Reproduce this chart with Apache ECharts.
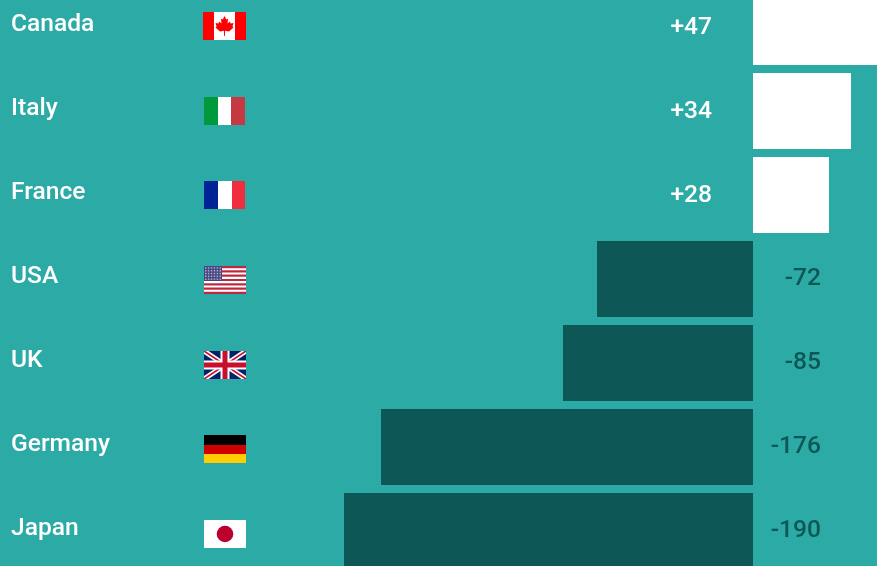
<!DOCTYPE html>
<html>
<head>
<meta charset="utf-8">
<style>
  html, body { margin: 0; padding: 0; background: #2caaa6; height: 566px; overflow: hidden; }
  /* first and last bars are cut by the window, so the chart box is taller than the page */
  #main { position: absolute; left: 0; top: -15px; width: 877px; height: 588px; }
</style>
<script src="https://cdn.jsdelivr.net/npm/echarts@6/dist/echarts.min.js"></script>
</head>
<body>
<div id="main"></div>
<script>
var countries = ['Canada', 'Italy', 'France', 'USA', 'UK', 'Germany', 'Japan'];
var flags = ['ca', 'it', 'fr', 'us', 'gb', 'de', 'jp'];
var valueLabels = ['+47', '+34', '+28', '-72', '-85', '-176', '-190'];
// bar lengths as drawn in the picture, they are not proportional to the printed numbers
var barLengths = [124, 98, 76, -156, -190, -372, -409];

var TEAL = '#2caaa6';
var DARK = '#0d5856';

var chart = echarts.init(document.getElementById('main'), null, { renderer: 'canvas' });

function rect(x, y, w, h, fill) {
    return { type: 'rect', shape: { x: x, y: y, width: w, height: h }, style: { fill: fill } };
}
function poly(points, fill) {
    return { type: 'polygon', shape: { points: points }, style: { fill: fill } };
}
// corner to corner band of the union flag, stays inside the flag box
function diagonal(x, y, w, h, dx, dy, fill) {
    return [
        poly([[x, y], [x + dx, y], [x + w, y + h - dy], [x + w, y + h], [x + w - dx, y + h], [x, y + dy]], fill),
        poly([[x + w, y], [x + w - dx, y], [x, y + h - dy], [x, y + h], [x + dx, y + h], [x + w, y + dy]], fill)
    ];
}

// flags are 42x28, x/y is the top left corner
function drawFlag(code, x, y) {
    var c = [];
    if (code === 'ca') {
        c.push(rect(x - 1, y, 43, 28, '#ffffff'));
        c.push(rect(x - 1, y, 11, 28, '#ff0000'));
        c.push(rect(x + 31, y, 11, 28, '#ff0000'));
        var mx = x + 20.5;
        var my = y;
        var leaf = [[0, 4], [1.8, 7.5], [3.6, 6.8], [3, 11.5], [5.5, 9.5], [6, 11.5], [9, 11], [8, 14.5], [9, 15.5],
            [4.5, 19.5], [0.6, 18.8], [0.4, 24], [-0.4, 24], [-0.6, 18.8], [-4.5, 19.5], [-9, 15.5], [-8, 14.5], [-9, 11],
            [-6, 11.5], [-5.5, 9.5], [-3, 11.5], [-3.6, 6.8], [-1.8, 7.5]];
        c.push(poly(leaf.map(function (p) { return [mx + p[0], my + p[1]]; }), '#ff0000'));
    } else if (code === 'it') {
        c.push(rect(x, y, 14, 28, '#009a3d'));
        c.push(rect(x + 14, y, 13, 28, '#ffffff'));
        c.push(rect(x + 27, y, 14, 28, '#c53a42'));
    } else if (code === 'fr') {
        c.push(rect(x, y, 14, 28, '#002395'));
        c.push(rect(x + 14, y, 14, 28, '#ffffff'));
        c.push(rect(x + 28, y, 13, 28, '#f02d3c'));
    } else if (code === 'us') {
        c.push(rect(x, y, 42, 28, '#ffffff'));
        for (var s = 0; s < 7; s++) {
            c.push(rect(x, y + s * 4.31, 42, 2.15, '#bb2a40'));
        }
        c.push(rect(x, y, 18, 15, '#45467e'));
        for (var r = 0; r < 5; r++) {
            for (var k = 0; k < 6; k++) {
                c.push(rect(x + 1 + k * 2.9, y + 1.2 + r * 2.8, 1.5, 1.5, '#a9aacb'));
            }
        }
    } else if (code === 'gb') {
        var w = 42, h = 28;
        c.push(rect(x, y, w, h, '#012169'));
        c = c.concat(diagonal(x, y, w, h, 4.5, 3, '#ffffff'));
        c = c.concat(diagonal(x, y, w, h, 1.5, 1, '#c8102e'));
        c.push(rect(x + 16.5, y, 9, h, '#ffffff'));
        c.push(rect(x, y + 9.5, w, 9, '#ffffff'));
        c.push(rect(x + 18.5, y, 5, h, '#c8102e'));
        c.push(rect(x, y + 11.5, w, 5, '#c8102e'));
    } else if (code === 'de') {
        c.push(rect(x, y, 42, 10, '#000000'));
        c.push(rect(x, y + 10, 42, 9, '#d00000'));
        c.push(rect(x, y + 19, 42, 9, '#ffce00'));
    } else if (code === 'jp') {
        c.push(rect(x, y, 42, 28, '#ffffff'));
        c.push({ type: 'circle', shape: { cx: x + 21, cy: y + 14, r: 8.3 }, style: { fill: '#bc002d' } });
    }
    return c;
}

var option = {
    animation: false,
    backgroundColor: TEAL,
    grid: { left: 0, right: 0, top: 0, bottom: 0, containLabel: false },
    xAxis: {
        type: 'value',
        min: -753,
        max: 124,
        show: false
    },
    yAxis: {
        type: 'category',
        inverse: true,
        data: countries,
        position: 'left',
        axisLine: { show: false },
        axisTick: { show: false },
        splitLine: { show: false },
        z: 5,
        axisLabel: {
            inside: true,
            margin: 11,
            color: '#ffffff',
            fontFamily: 'Roboto',
            fontWeight: 500,
            fontSize: 24.6,
            // nudges the names a little above the row centre
            verticalAlign: 'bottom',
            lineHeight: 4
        }
    },
    series: [
        {
            type: 'bar',
            data: barLengths.map(function (v) {
                return { value: v, itemStyle: { color: v > 0 ? '#ffffff' : DARK } };
            }),
            barWidth: 76
        },
        {
            // flags and printed numbers, one row per category
            type: 'custom',
            coordinateSystem: 'cartesian2d',
            data: barLengths.map(function (v, i) { return [0, i]; }),
            clip: false,
            z: 4,
            renderItem: function (params, api) {
                var i = params.dataIndex;
                var p = api.coord([0, i]);
                var flagY = Math.round(p[1] - 15 + i * 0.67);
                var positive = barLengths[i] > 0;
                var children = drawFlag(flags[i], 204, flagY);
                children.push({
                    type: 'text',
                    style: {
                        x: positive ? p[0] - 41 : p[0] + 68,
                        y: p[1] + (positive ? 1 : 0),
                        text: valueLabels[i],
                        fill: positive ? '#ffffff' : DARK,
                        font: '500 24.6px Roboto',
                        align: 'right',
                        verticalAlign: 'middle'
                    }
                });
                return { type: 'group', children: children };
            }
        }
    ]
};
chart.setOption(option);
</script>
</body>
</html>
